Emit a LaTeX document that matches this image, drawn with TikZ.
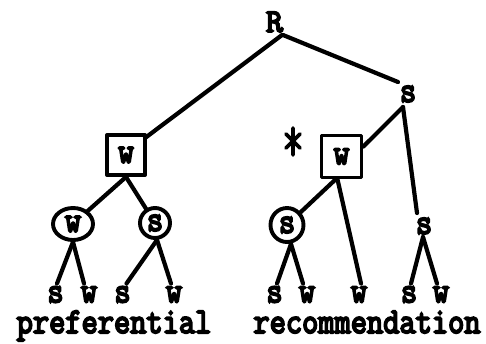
\documentclass[tikz,border=0pt]{standalone}
\usepackage{fontspec}
\usepackage{graphicx}
\usetikzlibrary{shapes.geometric}
\newfontfamily\tw{Latin Modern Mono}[FakeBold=5.5]
\newcommand{\vs}[1]{\scalebox{1}[1.15]{#1}}
\tikzset{
  ln/.style={line width=4.2pt, line cap=round, line join=round},
  lab/.style={inner sep=0pt, font=\tw\fontsize{31.5}{33}\selectfont},
  wrd/.style={inner sep=0pt, anchor=base, font=\tw\fontsize{31.5}{33}\selectfont},
  boxn/.style={lab, draw, line width=3.9pt, line join=round},
  circn/.style={lab, draw, ellipse, line width=3.9pt},
}
\begin{document}
\begin{tikzpicture}[x=1pt,y=-1pt]
\useasboundingbox (0,0) rectangle (486,343);
\node[lab] (R) at (274.5,22) {\scalebox{1.05}{R}};
\node[lab] (s1) at (408,94) {\vs{s}};
\node[boxn, minimum width=38pt, minimum height=40pt] (b1) at (126,155) {\raisebox{-5pt}{\vs{w}}};
\node[boxn, minimum width=40pt, minimum height=42pt] (b2) at (341.5,156.5) {\raisebox{-4pt}{\vs{w}}};
\node[circn, minimum width=40pt, minimum height=32pt] (c1) at (73,224) {\vs{w}};
\node[circn, minimum width=30pt, minimum height=30pt] (c2) at (155,223) {\vs{s}};
\node[circn, minimum width=33pt, minimum height=34pt] (c3) at (287,225) {\vs{s}};
\node[lab] (s2) at (424,226) {\vs{s}};
\node[lab] (l1) at (55.5,294.5) {\vs{s}};
\node[lab] (l2) at (89,294.5) {\vs{w}};
\node[lab] (l3) at (122.5,294.5) {\vs{s}};
\node[lab] (l4) at (174,294.5) {\vs{w}};
\node[lab] (l5) at (274.5,294.5) {\vs{s}};
\node[lab] (l6) at (307,294.5) {\vs{w}};
\node[lab] (l7) at (359,294.5) {\vs{w}};
\node[lab] (l8) at (409,294.5) {\vs{s}};
\node[lab] (l9) at (441,294.5) {\vs{w}};
\node[wrd] (w1) at (114,333) {\vs{preferential}};
\node[wrd] (w2) at (367,333) {\vs{recommendation}};
% asterisk
\draw[ln, line width=3.6pt] (293,128) -- (293,155) (286,134) -- (300,148) (300,134) -- (286,148);
% connectors
\draw[ln] ([shift={(7.5,13)}]R.center) -- ([shift={(-2,5)}]b1.north east);
\draw[ln] ([shift={(8.5,13)}]R.center) -- ([shift={(-10,-12)}]s1.center);
\draw[ln] ([shift={(-5,13)}]s1.center) -- ([shift={(0,-10)}]b2.east);
\draw[ln] ([shift={(-5,13)}]s1.center) -- ([shift={(-7,-13)}]s2.center);
\draw[ln] (b1.south) -- (c1);
\draw[ln] (b1.south) -- (c2);
\draw[ln] ([xshift=-6pt]b2.south) -- (c3);
\draw[ln] ([xshift=-4pt]b2.south) -- ([shift={(2,-11)}]l7.center);
\draw[ln] (c1.south) -- ([shift={(1.5,-11)}]l1.center);
\draw[ln] (c1.south) -- ([shift={(-5,-11)}]l2.center);
\draw[ln] ([xshift=2pt]c2.south) -- ([shift={(4,-11)}]l3.center);
\draw[ln] ([xshift=2pt]c2.south) -- ([shift={(-3,-11)}]l4.center);
\draw[ln] ([xshift=4pt]c3.south) -- ([shift={(2.5,-11)}]l5.center);
\draw[ln] ([xshift=4pt]c3.south) -- ([shift={(-4,-11)}]l6.center);
\draw[ln] ([shift={(-1,11)}]s2.center) -- ([shift={(2,-11)}]l8.center);
\draw[ln] ([shift={(-1,11)}]s2.center) -- ([shift={(-4,-11)}]l9.center);
\end{tikzpicture}
\end{document}
